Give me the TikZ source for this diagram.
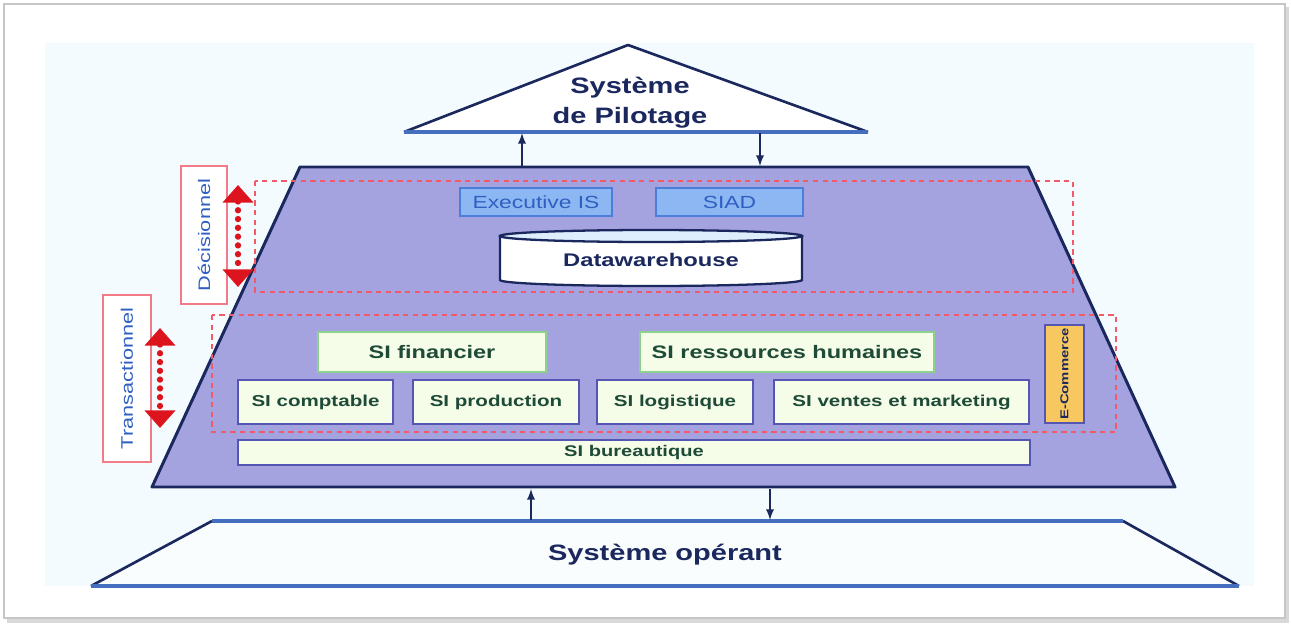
\documentclass[tikz,border=0pt]{standalone}
\usepackage{fontspec}
\setmainfont{Liberation Sans}[FakeStretch=1.3]
\usetikzlibrary{arrows.meta}

\definecolor{navy}{RGB}{26,40,94}
\definecolor{lav}{RGB}{164,163,224}
\definecolor{paleblue}{RGB}{243,251,254}
\definecolor{baseblue}{RGB}{70,110,190}
\definecolor{redzone}{RGB}{240,90,105}
\definecolor{redarr}{RGB}{220,20,30}
\definecolor{cream}{RGB}{245,252,232}
\definecolor{sigreen}{RGB}{140,210,140}
\definecolor{siblue}{RGB}{85,85,180}
\definecolor{sitext}{RGB}{30,75,55}
\definecolor{bifill}{RGB}{140,183,242}
\definecolor{bidraw}{RGB}{74,126,216}
\definecolor{bitext}{RGB}{47,95,192}
\definecolor{ecofill}{RGB}{248,200,96}
\definecolor{dwtop}{RGB}{222,238,252}

\tikzset{>=latex,
  shapeline/.style={draw=navy, line width=1.7pt, line join=round},
  flow/.style={->, draw=navy, line width=1.1pt},
  zone/.style={draw=redzone, line width=0.8pt, dash pattern=on 3pt off 2.5pt},
  sidelabel/.style={draw=redzone!80, fill=white, line width=1pt, text=bitext,
    font=\fontsize{9.5}{11}\selectfont, rotate=90, inner sep=0pt},
  bibox/.style={draw=bidraw, fill=bifill, line width=1pt, text=bitext,
    font=\fontsize{10}{12}\selectfont, minimum height=0.56cm, inner sep=0pt},
  sibox/.style={draw=sigreen, fill=cream, line width=1.2pt, text=sitext,
    font=\bfseries\fontsize{10.3}{12}\selectfont, minimum height=0.8cm, inner sep=0pt},
  siboxb/.style={sibox, draw=siblue, font=\bfseries\fontsize{9}{11}\selectfont, minimum height=0.88cm},
  titletext/.style={text=navy, font=\bfseries\fontsize{12.7}{17}\selectfont, align=center},
  redarrow/.style={draw=redarr, line width=3.6pt, line cap=round, dash pattern=on 0pt off 5pt,
    {Triangle[width=17pt,length=10pt]}-{Triangle[width=17pt,length=10pt]}},
}

\begin{document}
\begin{tikzpicture}[x=0.02cm, y=-0.02cm]
  \useasboundingbox (0,0) rectangle (1291,625);
  % frame
  \fill[gray!30] (7,7) rectangle (1289,623);
  \filldraw[fill=white, draw=gray!45, line width=0.8pt] (4,4) rectangle (1285,618);
  \fill[paleblue] (45,43) rectangle (1254,586);

  % systeme de pilotage
  \fill[white] (404,132) -- (628,45) -- (868,132) -- cycle;
  \draw[navy, line width=1.5pt, line join=round] (404,132) -- (628,45) -- (868,132);
  \draw[baseblue, line width=2pt] (404,132) -- (868,132);
  \node[titletext] (pilot) at (630,103) {Système\\de Pilotage};

  % systeme d'information
  \filldraw[shapeline, fill=lav] (300,167) -- (1028,167) -- (1175,487) -- (152,487) -- cycle;
  \draw[zone] (255,181) rectangle (1073,292);
  \draw[zone] (212,315) rectangle (1116,432);

  \node[bibox, minimum width=3.04cm] (exec) at (536,202) {Executive IS};
  \node[bibox, minimum width=2.94cm] (siad) at (729.5,202) {SIAD};

  \filldraw[draw=navy, line width=1.3pt, fill=white] (500,236) -- (500,280)
    arc[start angle=180, end angle=360, x radius=3.02cm, y radius=0.12cm] -- (802,236) -- cycle;
  \filldraw[draw=navy, line width=1.3pt, fill=dwtop] (651,236) ellipse [x radius=3.02cm, y radius=0.12cm];
  \node[text=navy, font=\bfseries\fontsize{10.4}{12}\selectfont] (dwh) at (651,260) {Datawarehouse};

  \node[sibox, minimum width=4.56cm] (fin) at (432,352) {SI financier};
  \node[sibox, minimum width=5.88cm] (rh) at (787,352) {SI ressources humaines};
  \foreach \n/\x/\w/\t in {compt/315.5/3.1/SI comptable, prod/496/3.32/SI production,
      logi/675/3.12/SI logistique, vente/901.5/5.1/SI ventes et marketing}
    \node[siboxb, minimum width=\w cm] (\n) at (\x,402) {\t};
  \node[siboxb, fill=ecofill, text=navy, rotate=90, minimum width=1.96cm, minimum height=0.78cm,
    font=\bfseries\fontsize{6.5}{8}\selectfont] (ecom) at (1064.5,374) {E-Commerce};
  \node[siboxb, minimum width=15.84cm, minimum height=0.5cm,
    font=\bfseries\fontsize{8.8}{10}\selectfont] (bureau) at (634,452.5) {SI bureautique};

  % niveaux
  \node[sidelabel, minimum width=2.76cm, minimum height=0.92cm] (decis) at (204,235) {Décisionnel};
  \node[sidelabel, minimum width=3.34cm, minimum height=0.96cm] (trans) at (127,378.5) {Transactionnel};
  \coordinate (dtop) at (238,185); \coordinate (dbot) at (238,287);
  \coordinate (ttop) at (160,328); \coordinate (tbot) at (160,428);
  \draw[redarrow] (dtop) -- (dbot);
  \draw[redarrow] (ttop) -- (tbot);

  % systeme operant
  \fill[white!60!paleblue] (212,521) -- (1123,521) -- (1239,586) -- (91,586) -- cycle;
  \draw[navy, line width=1.5pt, line join=round] (212,521) -- (91,586);
  \draw[navy, line width=1.5pt, line join=round] (1123,521) -- (1239,586);
  \draw[baseblue, line width=2pt] (212,521) -- (1123,521) (91,586) -- (1239,586);
  \node[titletext] (operant) at (665,555) {Système opérant};

  % flux
  \foreach \x/\a/\b in {522/166/133, 760/133/166, 531/520/489, 770/489/520} {
    \coordinate (f1) at (\x,\a); \coordinate (f2) at (\x,\b);
    \draw[flow] (f1) -- (f2);
  }
\end{tikzpicture}
\end{document}
